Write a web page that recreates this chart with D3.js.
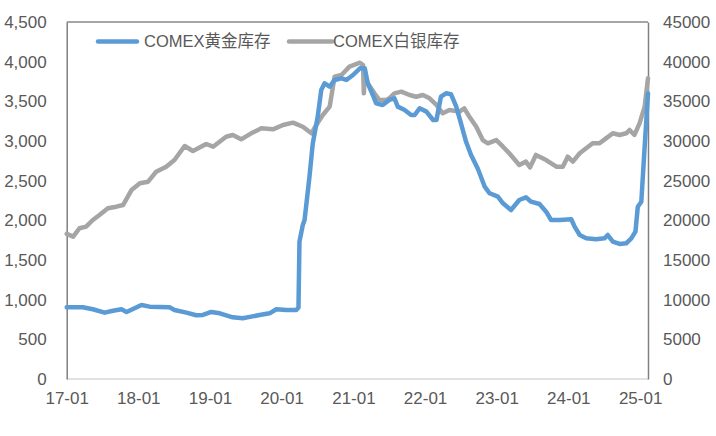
<!DOCTYPE html>
<html><head><meta charset="utf-8">
<script src="https://cdn.jsdelivr.net/npm/d3@7/dist/d3.min.js"></script>
<style>
html,body{margin:0;padding:0;background:#fff;}
svg text{font-family:"Liberation Sans",Arial,"Noto Sans CJK SC",sans-serif;fill:#595959;}
</style></head>
<body>
<svg id="chart" width="716" height="436"></svg>
<script>
const seriesNames = ["COMEX黄金库存", "COMEX白银库存"];
const xTickLabels = ["17-01","18-01","19-01","20-01","21-01","22-01","23-01","24-01","25-01"];
const leftTicks = [0,500,1000,1500,2000,2500,3000,3500,4000,4500];
const rightTicks = [0,5000,10000,15000,20000,25000,30000,35000,40000,45000];

const goldDates = ["2017-01-01","2017-03-24","2017-05-14","2017-07-13","2017-08-25","2017-10-07","2017-11-02","2018-01-17","2018-02-28","2018-06-09","2018-07-04","2018-09-03","2018-10-23","2018-11-26","2019-01-08","2019-02-20","2019-04-27","2019-06-17","2019-07-30","2019-09-11","2019-11-01","2019-12-05","2020-01-25","2020-03-16","2020-03-27","2020-04-01","2020-04-18","2020-04-27","2020-05-22","2020-06-08","2020-07-03","2020-07-21","2020-08-07","2020-09-02","2020-09-27","2020-11-01","2020-11-26","2020-12-30","2021-02-03","2021-02-28","2021-03-15","2021-04-10","2021-04-27","2021-05-30","2021-07-03","2021-07-29","2021-08-15","2021-09-19","2021-10-22","2021-11-09","2021-12-04","2022-01-08","2022-02-11","2022-02-28","2022-03-23","2022-04-18","2022-05-13","2022-06-08","2022-07-03","2022-07-29","2022-08-24","2022-09-27","2022-11-01","2022-11-26","2023-01-07","2023-02-02","2023-03-15","2023-04-26","2023-05-30","2023-06-25","2023-08-07","2023-09-10","2023-10-05","2023-11-17","2024-01-16","2024-02-02","2024-02-28","2024-04-01","2024-05-21","2024-07-03","2024-07-20","2024-08-15","2024-09-18","2024-10-22","2024-11-17","2024-12-08","2024-12-20","2025-01-07","2025-01-24","2025-02-10"];
const goldValues = [904,904,879,836,861,879,845,933,912,904,870,836,803,807,845,828,778,765,786,807,828,879,870,870,900,1731,1941,2004,2550,2971,3306,3643,3727,3685,3769,3790,3769,3832,3916,3916,3727,3580,3475,3454,3517,3538,3433,3391,3328,3328,3412,3370,3265,3265,3559,3601,3590,3440,3223,2990,2820,2650,2424,2341,2298,2215,2130,2256,2290,2235,2206,2109,2004,2004,2013,1920,1815,1773,1761,1773,1815,1731,1702,1710,1773,1857,2172,2235,2928,3600];

const silverDates = ["2017-01-01","2017-02-03","2017-03-07","2017-04-10","2017-05-14","2017-06-17","2017-07-30","2017-09-11","2017-10-15","2017-11-27","2018-01-09","2018-02-20","2018-04-02","2018-05-23","2018-07-04","2018-08-25","2018-10-06","2018-12-13","2019-01-17","2019-03-24","2019-04-27","2019-06-09","2019-07-30","2019-09-20","2019-11-18","2020-01-08","2020-02-28","2020-04-18","2020-06-01","2020-06-26","2020-07-29","2020-09-02","2020-09-27","2020-11-01","2020-12-12","2021-02-03","2021-02-19","2021-02-23","2021-02-28","2021-03-15","2021-04-18","2021-05-13","2021-06-17","2021-07-03","2021-07-29","2021-09-02","2021-10-14","2021-11-17","2021-12-21","2022-01-24","2022-02-28","2022-04-01","2022-05-05","2022-06-25","2022-07-20","2022-08-15","2022-09-19","2022-10-22","2022-11-17","2022-12-30","2023-02-02","2023-03-06","2023-04-26","2023-05-30","2023-06-20","2023-07-20","2023-09-10","2023-11-01","2023-12-04","2023-12-29","2024-01-24","2024-02-28","2024-05-04","2024-06-08","2024-07-11","2024-08-15","2024-09-18","2024-10-22","2024-11-08","2024-12-03","2024-12-29","2025-01-24","2025-02-10"];
const silverValues = [18300,17940,19000,19200,20040,20670,21520,21720,21930,23820,24670,24870,26130,26760,27600,29370,28740,29620,29280,30540,30760,30210,30970,31600,31470,32020,32310,31800,30970,32020,33280,34330,38110,38320,39370,39870,39580,36010,38500,37270,36010,35170,35170,35380,36010,36220,35800,35580,35800,35380,34540,33490,33900,33700,34120,33060,31800,30120,29710,30120,29280,28450,26970,27400,26680,28240,27600,26760,26760,28020,27400,28450,29710,29710,30330,30970,30760,30970,31390,30760,32230,34330,37900];

const parse = d3.timeParse("%Y-%m-%d");
const gold = goldDates.map((d,i)=>({date:parse(d), value:goldValues[i]}));
const silver = silverDates.map((d,i)=>({date:parse(d), value:silverValues[i]}));

const svg = d3.select("#chart");
const L = 66.7, R = 648, T = 22, B = 379;

const x = d3.scaleTime().domain([parse("2017-01-01"), parse("2025-02-10")]).range([L, R]);
const yL = d3.scaleLinear().domain([0,4500]).range([B, T]);
const yR = d3.scaleLinear().domain([0,45000]).range([B, T]);

// frame
svg.append("line").attr("x1",L).attr("x2",R).attr("y1",T).attr("y2",T).attr("stroke","#898989").attr("stroke-width",1.3);
svg.append("line").attr("x1",L).attr("x2",R).attr("y1",B).attr("y2",B).attr("stroke","#d9d9d9").attr("stroke-width",1.5);

// left axis
const gL = svg.append("g").attr("transform",`translate(${L},0)`)
  .call(d3.axisLeft(yL).tickValues(leftTicks).tickSize(0).tickPadding(20).tickFormat(d3.format(",")));
gL.select(".domain").attr("stroke","#808080").attr("stroke-width",1.5);
gL.selectAll("text").style("font-size","17px").attr("fill","#595959");

// right axis
const gR = svg.append("g").attr("transform",`translate(${R},0)`)
  .call(d3.axisRight(yR).tickValues(rightTicks).tickSize(0).tickPadding(15).tickFormat(d3.format("d")));
gR.select(".domain").attr("stroke","#808080").attr("stroke-width",1.5);
gR.selectAll("text").style("font-size","17px").attr("fill","#595959");

// bottom axis
const xTicks = xTickLabels.map(s => d3.timeParse("%y-%m")(s));
const gB = svg.append("g").attr("transform",`translate(0,${B})`)
  .call(d3.axisBottom(x).tickValues(xTicks).tickSize(0).tickPadding(13).tickFormat(d3.timeFormat("%y-%m")));
gB.select(".domain").remove();
gB.selectAll("text").style("font-size","17px").attr("fill","#595959");

// lines
const lineL = d3.line().x(d=>x(d.date)).y(d=>yL(d.value));
const lineR = d3.line().x(d=>x(d.date)).y(d=>yR(d.value));
svg.append("path").datum(silver).attr("d",lineR).attr("fill","none")
  .attr("stroke","#a5a5a5").attr("stroke-width",4.5).attr("stroke-linejoin","round").attr("stroke-linecap","round");
svg.append("path").datum(gold).attr("d",lineL).attr("fill","none")
  .attr("stroke","#5b9bd5").attr("stroke-width",4.5).attr("stroke-linejoin","round").attr("stroke-linecap","round");

// legend
const legend = [
  {name:seriesNames[0], color:"#5b9bd5", x1:98, x2:137, tx:144},
  {name:seriesNames[1], color:"#a5a5a5", x1:289, x2:332, tx:333}
];
const ly = 41.6;
legend.forEach(l=>{
  svg.append("line").attr("x1",l.x1).attr("x2",l.x2).attr("y1",ly).attr("y2",ly)
    .attr("stroke",l.color).attr("stroke-width",4.5).attr("stroke-linecap","round");
  svg.append("text").attr("x",l.tx).attr("y",ly).attr("dy","0.35em").style("font-size","16.5px").text(l.name);
});
</script>
</body></html>
